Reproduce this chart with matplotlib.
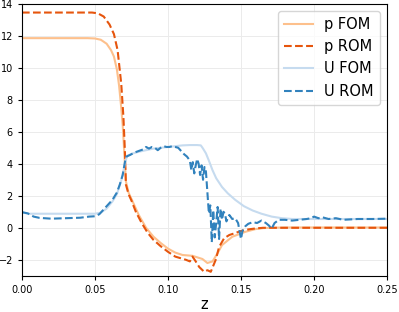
import matplotlib
matplotlib.use('Agg')
import matplotlib.pyplot as plt

# pressure, full order model
z_p_fom = [0, 0.045, 0.05, 0.054, 0.058, 0.061, 0.063, 0.065, 0.0665, 0.068, 0.069, 0.0702, 0.0712,
           0.073, 0.076, 0.08, 0.085, 0.09, 0.095, 0.1, 0.105, 0.11, 0.1168, 0.1236, 0.127, 0.1305,
           0.1339, 0.137, 0.144, 0.153, 0.16, 0.165, 0.17, 0.18, 0.2, 0.25]
p_fom = [11.85, 11.85, 11.83, 11.75, 11.5, 11.1, 10.7, 9.9, 8.9, 7.5, 6.4, 4.5, 2.9,
         2.2, 1.6, 0.8, 0.0, -0.55, -0.95, -1.3, -1.55, -1.7, -1.75, -1.95, -2.2, -2.1,
         -1.6, -1.08, -0.56, -0.25, -0.08, -0.02, 0.0, 0.02, 0.02, 0.02]

# pressure, reduced order model
z_p_rom = [0, 0.048, 0.052, 0.056, 0.06, 0.063, 0.0655, 0.068, 0.0695, 0.0705, 0.0712, 0.073, 0.075,
           0.078, 0.082, 0.086, 0.09, 0.095, 0.1, 0.105, 0.1123, 0.115, 0.1168, 0.119, 0.1214, 0.1248,
           0.127, 0.1293, 0.1327, 0.135, 0.1384, 0.142, 0.146, 0.15, 0.155, 0.16, 0.165, 0.17, 0.2, 0.25]
p_rom = [13.45, 13.45, 13.4, 13.2, 12.7, 12.1, 11.1, 9.0, 6.9, 4.8, 2.7, 2.1, 1.7,
         1.0, 0.3, -0.3, -0.75, -1.15, -1.5, -1.8, -2.0, -2.1, -1.8, -2.1, -2.45, -2.75,
         -2.65, -2.75, -2.0, -1.2, -0.66, -0.45, -0.33, -0.2, -0.1, -0.04, 0.0, 0.0, 0.0, 0.0]

# velocity, full order model
z_u_fom = [0, 0.005, 0.05, 0.054, 0.058, 0.062, 0.065, 0.068, 0.0705, 0.072, 0.076, 0.08, 0.085,
           0.09, 0.095, 0.1, 0.105, 0.11, 0.115, 0.12, 0.1225, 0.124, 0.126, 0.128, 0.1305, 0.133,
           0.137, 0.141, 0.146, 0.152, 0.158, 0.164, 0.171, 0.178, 0.185, 0.2, 0.25]
u_fom = [0.95, 0.88, 0.88, 0.95, 1.2, 1.65, 2.1, 2.95, 4.0, 4.5, 4.65, 4.75, 4.85,
         4.95, 5.0, 5.05, 5.1, 5.15, 5.17, 5.17, 5.15, 4.95, 4.65, 4.2, 3.6, 3.1,
         2.55, 2.15, 1.75, 1.35, 1.08, 0.88, 0.7, 0.6, 0.55, 0.55, 0.55]

# velocity, reduced order model
z_u_rom = [0, 0.004, 0.008, 0.012, 0.02, 0.03, 0.04, 0.046, 0.05, 0.053, 0.056, 0.059, 0.062, 0.065,
           0.067, 0.069, 0.0705, 0.0715, 0.074, 0.077, 0.08, 0.083, 0.085, 0.087, 0.089, 0.091,
           0.093, 0.095, 0.097, 0.099, 0.101, 0.103, 0.105, 0.107, 0.109, 0.111, 0.113, 0.115,
           0.116, 0.117, 0.118, 0.119, 0.12, 0.121, 0.122, 0.123, 0.124, 0.125, 0.126, 0.127,
           0.128, 0.129, 0.13, 0.131, 0.132, 0.133, 0.134, 0.135, 0.136, 0.137, 0.138, 0.139,
           0.14, 0.142, 0.144, 0.146, 0.148, 0.15, 0.151, 0.153, 0.155, 0.158, 0.161, 0.164,
           0.167, 0.169, 0.171, 0.173, 0.176, 0.18, 0.185, 0.19, 0.195, 0.198, 0.2, 0.203,
           0.206, 0.21, 0.215, 0.22, 0.23, 0.24, 0.25]
u_rom = [0.98, 0.9, 0.7, 0.62, 0.57, 0.6, 0.63, 0.7, 0.72, 0.85, 1.15, 1.45, 1.75, 2.2,
         2.7, 3.3, 4.1, 4.45, 4.55, 4.7, 4.8, 4.9, 5.05, 4.95, 5.05, 5.0,
         4.85, 5.0, 5.1, 5.05, 5.05, 5.1, 5.05, 5.0, 4.8, 4.6, 4.45, 4.2,
         3.6, 4.1, 3.4, 3.9, 4.3, 4.0, 3.3, 3.9, 3.0, 3.8, 3.5, 2.2,
         0.9, 1.4, -0.9, 1.1, -0.6, 0.3, 1.3, -0.7, 1.2, 0.5, 1.0, 0.9,
         0.4, 0.8, 0.55, 0.6, 0.3, -0.7, -0.2, 0.1, 0.25, 0.35, 0.3, 0.45,
         0.3, 0.15, -0.05, 0.3, 0.5, 0.5, 0.45, 0.5, 0.55, 0.6, 0.7, 0.6,
         0.65, 0.55, 0.6, 0.5, 0.55, 0.55, 0.57]

fig = plt.figure(figsize=(3.99, 3.12), dpi=100)
ax = fig.add_axes([0.055, 0.116, 0.915, 0.872])

ax.plot(z_p_fom, p_fom, color='#fdc08c', lw=1.5, label='p FOM')
ax.plot(z_p_rom, p_rom, color='#e6550d', lw=1.5, ls='--', label='p ROM')
ax.plot(z_u_fom, u_fom, color='#c6dbef', lw=1.5, label='U FOM')
ax.plot(z_u_rom, u_rom, color='#3182bd', lw=1.5, ls='--', label='U ROM')

ax.set_xlim(0, 0.25)
ax.set_ylim(-3, 14)
ax.set_xticks([0, 0.05, 0.10, 0.15, 0.20, 0.25])
ax.set_yticks([-2, 0, 2, 4, 6, 8, 10, 12, 14])
ax.tick_params(labelsize=7, length=3)
ax.grid(True, color='#ebebeb', lw=0.7)
ax.set_xlabel('z', fontsize=10.5, labelpad=1.5)
ax.legend(loc='upper right', fontsize=10.5)

fig.savefig('out.png', dpi=100)
